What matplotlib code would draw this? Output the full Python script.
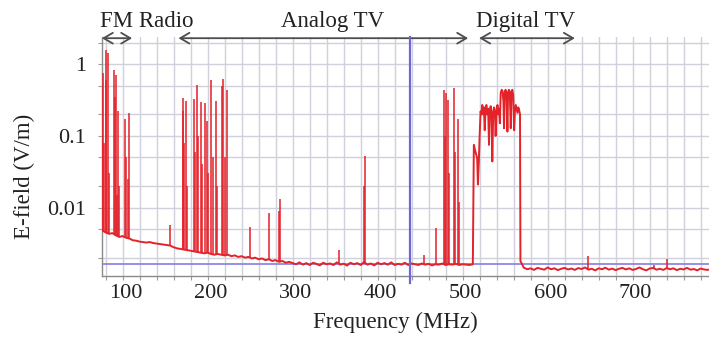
import numpy as np
import matplotlib
matplotlib.use('Agg')
import matplotlib.pyplot as plt
import matplotlib.transforms as mtransforms
from matplotlib.ticker import FixedLocator, FixedFormatter, MultipleLocator, LogLocator, NullFormatter

# ---------------- data ----------------
# noise floor below Digital TV (mV/m), sweep from 76 MHz in 4 MHz steps
lo_floor_start = 76
lo_floor_step = 4
lo_floor_mv = [
    4.8, 4.5, 4.3, 4.4, 4.1, 3.9, 4.0, 3.8, 3.7, 3.5,
    3.45, 3.35, 3.3, 3.25, 3.3, 3.2, 3.15, 3.1, 3.05, 3.0,
    2.95, 2.8, 2.7, 2.65, 2.6, 2.55, 2.5, 2.45, 2.4, 2.35,
    2.3, 2.35, 2.25, 2.2, 2.25, 2.2, 2.15, 2.2, 2.1, 2.15,
    2.05, 2.1, 2.0, 2.05, 1.95, 2.0, 1.9, 1.95, 1.85, 1.9,
    1.8, 1.85, 1.75, 1.8, 1.7, 1.75, 1.68, 1.62, 1.72, 1.6,
    1.68, 1.58, 1.7, 1.64, 1.56, 1.7, 1.62, 1.66, 1.58, 1.72,
    1.6, 1.65, 1.55, 1.7, 1.62, 1.68, 1.58, 1.74, 1.6, 1.66,
    1.56, 1.7, 1.62, 1.68, 1.6, 1.72, 1.58, 1.64, 1.6, 1.7,
    1.58, 1.66, 1.62, 1.58, 1.66, 1.6, 1.64, 1.56, 1.62, 1.6,
    1.66, 1.58, 1.62, 1.6, 1.64, 1.58, 1.62, 1.6, 1.58, 1.62,
]

# Digital TV block (MHz, V/m)
dtv_f = [513.2, 514.5, 516.0, 517.1, 518.0, 519.1, 520.0, 521.1, 522.0, 523.1,
         524.0, 525.0, 526.0, 527.0, 528.0, 529.0, 530.0, 531.0, 532.0, 533.0,
         534.0, 534.9, 536.0, 537.0, 538.0, 538.8, 540.0, 541.0, 542.0, 542.8,
         543.8, 544.8, 546.0, 547.0, 548.0, 548.7, 549.5, 550.5, 551.5, 552.7,
         553.5, 554.5, 555.5, 556.6, 557.5, 558.5, 559.5, 560.6, 561.5, 562.5,
         563.5, 564.5, 565.5, 566.5, 567.5, 568.0]
dtv_v = [0.075, 0.064, 0.055, 0.049, 0.021, 0.045, 0.10, 0.22, 0.20, 0.27,
         0.20, 0.25, 0.12, 0.24, 0.27, 0.20, 0.24, 0.075, 0.23, 0.26,
         0.20, 0.044, 0.22, 0.25, 0.22, 0.10, 0.23, 0.27, 0.20, 0.24,
         0.15, 0.40, 0.44, 0.42, 0.30, 0.128, 0.40, 0.44, 0.39, 0.115,
         0.41, 0.44, 0.40, 0.128, 0.42, 0.44, 0.37, 0.12, 0.22, 0.27,
         0.24, 0.21, 0.25, 0.23, 0.20, 0.0018]

# noise floor above Digital TV (mV/m), sweep from 572 MHz in 4 MHz steps
hi_floor_start = 572
hi_floor_step = 4
hi_floor_mv = [
    1.45, 1.38, 1.42, 1.35, 1.44, 1.40, 1.36, 1.46, 1.38, 1.42,
    1.34, 1.40, 1.44, 1.37, 1.41, 1.35, 1.43, 1.39, 1.46, 1.36,
    1.40, 1.33, 1.42, 1.38, 1.45, 1.36, 1.41, 1.34, 1.40, 1.44,
    1.37, 1.42, 1.35, 1.39, 1.46, 1.38, 1.33, 1.41, 1.44, 1.36,
    1.40, 1.35, 1.43, 1.38, 1.42, 1.34, 1.40, 1.37, 1.44, 1.36,
    1.39, 1.33, 1.41, 1.37, 1.35, 1.38,
]

# narrow carriers: frequency (MHz), peak (V/m), base (mV/m)
peak_f = [75.6, 76.3, 77.3, 78.6, 80.1, 80.8, 82.5, 83.5, 89.9, 90.8,
          92.0, 93.2, 95.0, 96.0, 102.6, 104.2, 105.8, 107.8,
          155.4,
          170.8, 171.6, 172.8, 174.7, 176.0, 183.8, 185.0, 187.8, 189.0, 191.7,
          193.0, 196.4, 198.8, 200.0, 204.4, 205.8, 209.5, 211.0, 216.9, 218.6,
          220.0, 222.4,
          249.7, 271.8, 283.5, 284.8, 354.0, 384.5, 385.0, 454.0, 469.0,
          477.7, 479.0, 480.5, 482.3, 484.0, 489.6, 491.0, 494.7, 496.0,
          647.0, 725.0, 740.0]
peak_top = [0.55, 0.10, 0.75, 0.08, 1.58, 0.60, 1.42, 0.03, 0.83, 0.35,
            0.70, 0.015, 0.22, 0.02, 0.17, 0.05, 0.025, 0.21,
            0.0057,
            0.22, 0.34, 0.08, 0.31, 0.02, 0.33, 0.06, 0.51, 0.10, 0.30,
            0.04, 0.29, 0.16, 0.03, 0.60, 0.05, 0.31, 0.02, 0.50, 0.63,
            0.05, 0.44,
            0.0054, 0.0083, 0.009, 0.013, 0.0026, 0.02, 0.052, 0.0022, 0.0052,
            0.44, 0.10, 0.40, 0.32, 0.03, 0.46, 0.06, 0.17, 0.012,
            0.0021, 0.0016, 0.0019]
peak_base_mv = [4.8, 4.8, 4.7, 4.6, 4.5, 4.5, 4.4, 4.3, 4.3, 4.2,
                4.1, 4.1, 3.9, 3.9, 4.0, 3.9, 3.8, 3.7,
                2.95,
                2.65, 2.6, 2.6, 2.55, 2.55, 2.45, 2.45, 2.4, 2.4, 2.35,
                2.35, 2.3, 2.3, 2.35, 2.25, 2.25, 2.2, 2.2, 2.2, 2.15,
                2.15, 2.15,
                2.0, 1.9, 1.8, 1.8, 1.65, 1.65, 1.65, 1.62, 1.6,
                1.62, 1.62, 1.6, 1.6, 1.6, 1.62, 1.62, 1.6, 1.6,
                1.4, 1.38, 1.4]

band_names = ['FM Radio', 'Analog TV', 'Digital TV']
band_lo = [75.6, 165.7, 519.5]
band_hi = [111.2, 506.5, 632.0]

ref_level = 0.00165      # horizontal marker (V/m)
marker_freq = 438.0      # vertical marker (MHz)

x_ticks = [100, 200, 300, 400, 500, 600, 700]
y_ticks = [0.01, 0.1, 1]
y_tick_labels = ['0.01', '0.1', '1']

# ---------------- figure ----------------
plt.rcParams['font.family'] = ['Liberation Serif', 'DejaVu Serif']
W, H = 709, 337
fig = plt.figure(figsize=(W / 100, H / 100), dpi=100)
ax = fig.add_axes([101.7 / W, 61 / H, (W - 101.7) / W + 0.005, 239 / H])

red = '#e3222a'
grid_c = '#d0d1da'

lo_f = lo_floor_start + lo_floor_step * np.arange(len(lo_floor_mv))
hi_f = hi_floor_start + hi_floor_step * np.arange(len(hi_floor_mv))
trace_f = np.concatenate([lo_f, dtv_f, hi_f])
trace_v = np.concatenate([np.array(lo_floor_mv) * 1e-3, dtv_v, np.array(hi_floor_mv) * 1e-3])

ax.axhline(ref_level, color='#8e88e6', lw=1.3, zorder=2)
ax.plot(trace_f, trace_v, color=red, lw=1.4, zorder=3)
ax.vlines(peak_f, np.array(peak_base_mv) * 1e-3, peak_top, color=red, lw=1.4,
          alpha=0.8, zorder=3)
ax.axvline(marker_freq, color='#6e66d8', lw=1.6, zorder=4, clip_on=False,
           ymin=-0.03, ymax=1.0)

ax.set_yscale('log')
ax.set_xlim(75.4, 794)
ax.set_ylim(0.00111, 2.4)

ax.xaxis.set_major_locator(FixedLocator(x_ticks))
ax.xaxis.set_minor_locator(MultipleLocator(20))
ax.yaxis.set_major_locator(FixedLocator(y_ticks))
ax.yaxis.set_major_formatter(FixedFormatter(y_tick_labels))
ax.yaxis.set_minor_locator(LogLocator(base=10, subs=(1.0, 2.0, 5.0)))
ax.yaxis.set_minor_formatter(NullFormatter())

ax.grid(True, which='both', color=grid_c, lw=1.0, zorder=0)
ax.set_axisbelow(True)

for s in ['top', 'right']:
    ax.spines[s].set_visible(False)
for s in ['left', 'bottom']:
    ax.spines[s].set_color('#8a8a8a')
    ax.spines[s].set_linewidth(1.0)

ax.tick_params(axis='both', which='both', color='#9a9a9a', length=3, width=0.8,
               labelsize=16, labelcolor='#222222')
ax.tick_params(axis='x', which='major', pad=3)
ax.tick_params(axis='y', which='major', pad=8)

off = mtransforms.ScaledTranslation(3 / 100, 0, fig.dpi_scale_trans)
for lbl in ax.get_xticklabels():
    lbl.set_transform(lbl.get_transform() + off)

# band annotations
trans = mtransforms.blended_transform_factory(ax.transData, ax.transAxes)
for lo, hi in zip(band_lo, band_hi):
    ax.annotate('', xy=(hi, 0.995), xytext=(lo, 0.995), xycoords=trans, textcoords=trans,
                arrowprops=dict(arrowstyle='<->, head_length=0.6, head_width=0.35',
                                color='#4d4d4d', lw=1.3, mutation_scale=11,
                                shrinkA=0, shrinkB=0),
                annotation_clip=False)

label_x_px = [146.5, 333.0, 525.5]
for name, xp in zip(band_names, label_x_px):
    fig.text(xp / W, 1 - 26.7 / H, name, ha='center', va='baseline',
             fontsize=16.5, color='#222222')

fig.text(395 / W, 1 - 328 / H, 'Frequency (MHz)', ha='center', va='baseline',
         fontsize=16.5, color='#222222')
fig.text(24 / W, 1 - 176 / H, 'E-field (V/m)', rotation=90, ha='center', va='center',
         fontsize=16.5, color='#222222')

fig.savefig('out.png', dpi=100)
